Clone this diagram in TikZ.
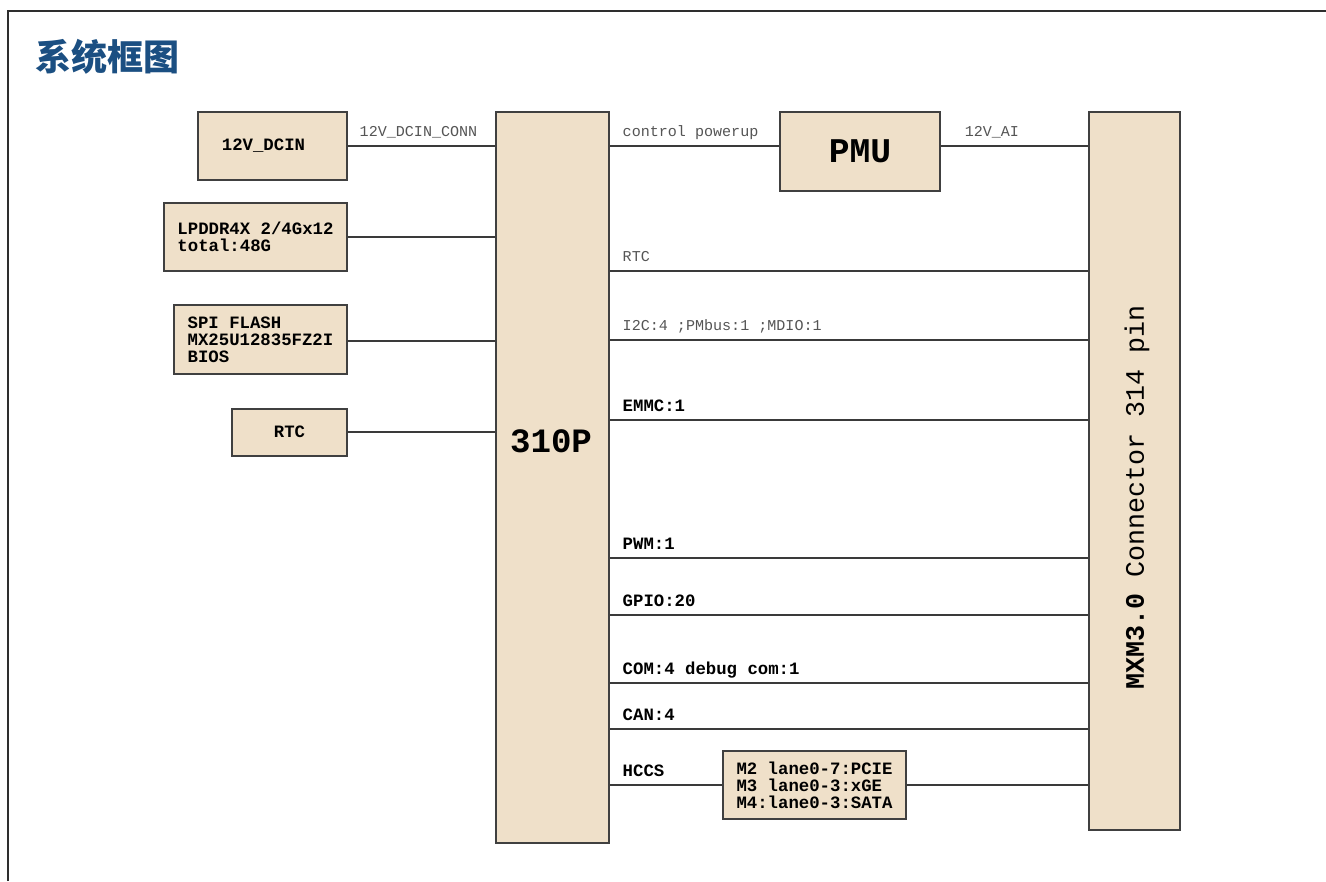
\documentclass[tikz,border=0pt]{standalone}
\usepackage{fontspec}
\newfontfamily\mono{Liberation Mono}
\newfontfamily\cjk{Noto Sans CJK SC}
\definecolor{boxfill}{HTML}{EFE0C9}
\definecolor{boxline}{HTML}{404040}
\definecolor{wirec}{HTML}{3A3A3A}
\definecolor{lblgray}{HTML}{555555}
\definecolor{titleblue}{HTML}{1B4F82}
\definecolor{framec}{HTML}{2E2E2E}
\begin{document}
\begin{tikzpicture}[x=0.75pt,y=-0.75pt,
  box/.style={draw=boxline, fill=boxfill, line width=1.5pt, inner sep=0pt,
    font=\mono\bfseries\fontsize{13}{12.8}\selectfont},
  wire/.style={draw=wirec, line width=1.1pt},
  thinlbl/.style={font=\mono\fontsize{11.3}{12}\selectfont, text=lblgray, inner sep=0pt, anchor=base west},
  boldlbl/.style={font=\mono\bfseries\fontsize{13}{13}\selectfont, text=black, inner sep=0pt, anchor=base west}
]
\useasboundingbox (0,0) rectangle (1326,881);
\fill[white] (0,0) rectangle (1326,881);
% frame
\draw[line width=1.5pt, framec] (8,881) -- (8,11) -- (1326,11);
% title
\node[font=\cjk\bfseries\fontsize{27}{27}\selectfont, text=titleblue, anchor=west, inner sep=0pt] (title) at (35,57) {系统框图};

% left boxes
\node[box, minimum width=111.75pt, minimum height=51pt] (dcin) at (272.5,146) {12V\_DCIN\kern13.5pt};
\node[box, minimum width=137.25pt, minimum height=51pt, align=left] (lpddr) at (255.5,237) {LPDDR4X 2/4Gx12\\total:48G};
\node[box, minimum width=129.75pt, minimum height=51.75pt, align=left] (spi) at (260.5,339.5) {SPI FLASH\\MX25U12835FZ2I\\BIOS};
\node[box, minimum width=86.25pt, minimum height=35.25pt] (rtc) at (289.5,432) {RTC};

% SoC
\node[box, minimum width=84.75pt, minimum height=548.25pt] (soc) at (552.5,477.5) {};
\node[font=\mono\bfseries\fontsize{25.6}{26}\selectfont, inner sep=0pt] (soctext) at (551,441) {310P};

% PMU
\node[box, minimum width=120pt, minimum height=59.25pt, font=\mono\bfseries\fontsize{26}{26}\selectfont] (pmu) at (860,151.5) {PMU};

% MXM connector
\node[box, minimum width=68.25pt, minimum height=538.5pt] (mxm) at (1134.5,471) {};
\node[rotate=90, font=\mono\fontsize{20}{20}\selectfont, inner sep=0pt] (mxmtext) at (1137,497) {{\bfseries MXM3.0} Connector 314 pin};

% HCCS box
\node[box, minimum width=137.25pt, minimum height=51pt, align=left] (hccsbox) at (814.5,785) {M2 lane0-7:PCIE\\M3 lane0-3:xGE\\M4:lane0-3:SATA};

% left wires
\draw[wire] (dcin.east) -- (dcin.east -| soc.west)
  node[thinlbl, pos=0, xshift=8.25pt, yshift=7.5pt] {12V\_DCIN\_CONN};
\draw[wire] (lpddr.east) -- (lpddr.east -| soc.west);
\draw[wire] (spi.east |- 0,341) -- (soc.west |- 0,341);
\draw[wire] (rtc.east) -- (rtc.east -| soc.west);

% PMU wires
\draw[wire] (soc.east |- 0,146) -- (pmu.west |- 0,146)
  node[thinlbl, pos=0, xshift=9pt, yshift=7.5pt] {control powerup};
\draw[wire] (pmu.east |- 0,146) -- (mxm.west |- 0,146)
  node[thinlbl, pos=0, xshift=17.25pt, yshift=7.5pt] {12V\_AI};

% bus wires
\draw[wire] (soc.east |- 0,271) -- (mxm.west |- 0,271)
  node[thinlbl, pos=0, xshift=9pt, yshift=7.5pt] {RTC};
\draw[wire] (soc.east |- 0,340) -- (mxm.west |- 0,340)
  node[thinlbl, pos=0, xshift=9pt, yshift=7.5pt] {I2C:4 ;PMbus:1 ;MDIO:1};
\draw[wire] (soc.east |- 0,420) -- (mxm.west |- 0,420)
  node[boldlbl, pos=0, xshift=9pt, yshift=6.2pt] {EMMC:1};
\draw[wire] (soc.east |- 0,558) -- (mxm.west |- 0,558)
  node[boldlbl, pos=0, xshift=9pt, yshift=6.6pt] {PWM:1};
\draw[wire] (soc.east |- 0,615) -- (mxm.west |- 0,615)
  node[boldlbl, pos=0, xshift=9pt, yshift=6.6pt] {GPIO:20};
\draw[wire] (soc.east |- 0,683) -- (mxm.west |- 0,683)
  node[boldlbl, pos=0, xshift=9pt, yshift=6.6pt] {COM:4 debug com:1};
\draw[wire] (soc.east |- 0,729) -- (mxm.west |- 0,729)
  node[boldlbl, pos=0, xshift=9pt, yshift=6.2pt] {CAN:4};
\draw[wire] (soc.east |- hccsbox.west) -- (hccsbox.west)
  node[boldlbl, pos=0, xshift=9pt, yshift=6.6pt] {HCCS};
\draw[wire] (hccsbox.east) -- (hccsbox.east -| mxm.west);
\end{tikzpicture}
\end{document}
